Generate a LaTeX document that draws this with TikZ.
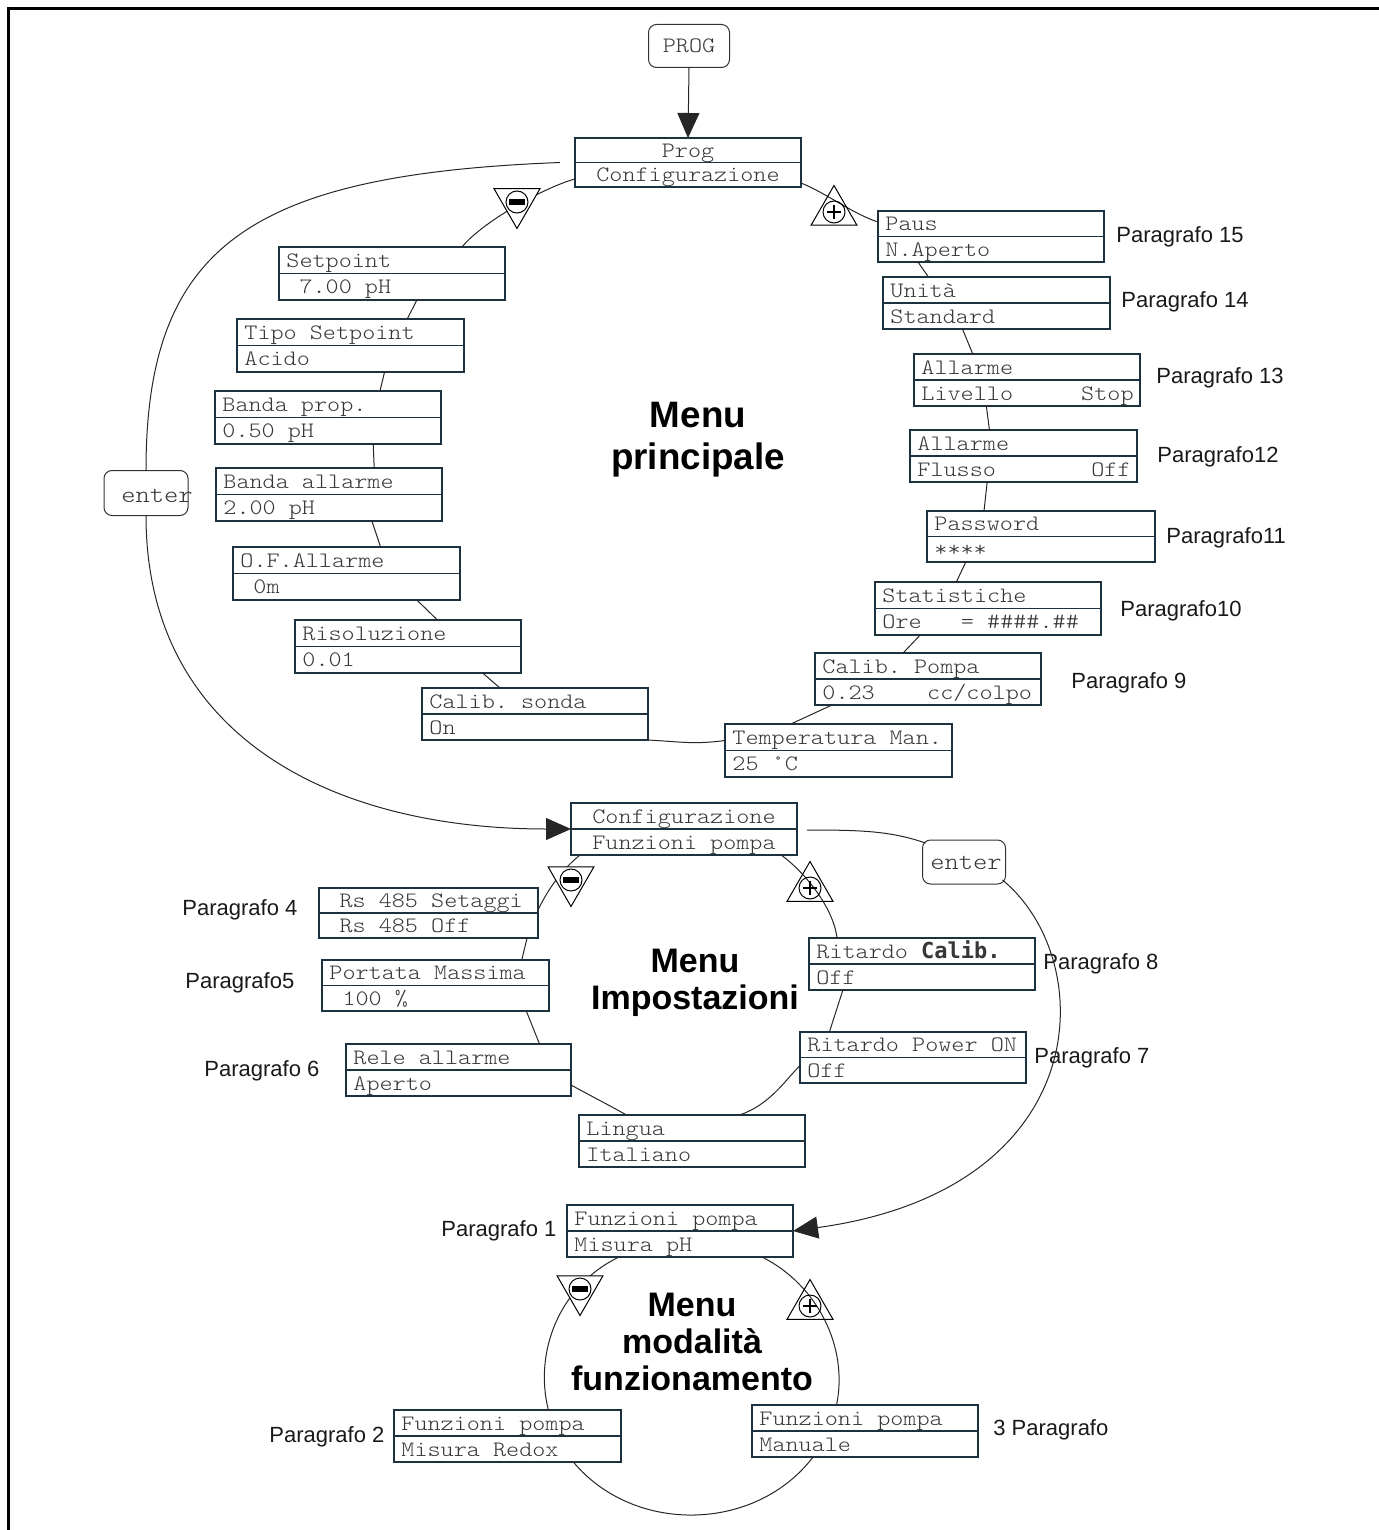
\documentclass[tikz,border=0pt]{standalone}
\usepackage{fontspec}
\newfontfamily\lab{Liberation Sans}
\newfontfamily\dvm{DejaVu Sans Mono}
\newfontfamily\monof[FakeStretch=1.134]{lmmonolt10-regular.otf}
\usetikzlibrary{arrows.meta,calc,shapes.geometric}
\definecolor{boxc}{RGB}{28,50,64}
\definecolor{txtc}{RGB}{55,55,55}
\tikzset{
  mbox/.style={draw=boxc, line width=0.9pt, fill=white, inner sep=0pt, outer sep=0pt},
  divl/.style={draw=boxc, line width=0.9pt},
  mtxt/.style={font=\fontsize{11}{13}\monof, text=txtc, inner sep=0pt, text height=7pt, text depth=2pt},
  conn/.style={line width=0.5pt, draw=black!85},
  arr/.style={conn, -{Triangle[length=12.5pt,width=11pt]}},
  tridown/.style={regular polygon, regular polygon sides=3, shape border rotate=180, draw=black, line width=0.5pt, fill=white, minimum size=26.5pt, inner sep=0pt, outer sep=0pt},
  triup/.style={regular polygon, regular polygon sides=3, draw=black, line width=0.5pt, minimum size=26.5pt, inner sep=0pt, outer sep=0pt},
  sgn/.style={circle, draw=black, line width=0.5pt, minimum size=11pt, inner sep=0pt, outer sep=0pt},
  plab/.style={font=\lab\fontsize{11}{13}\selectfont, anchor=west, inner sep=0pt, text=black!90},
  enterb/.style={draw=black!80, rounded corners=4pt, line width=0.5pt, fill=white, inner sep=0pt, outer sep=0pt},
  ttl/.style 2 args={font=\lab\bfseries\fontsize{#1}{#2}\selectfont, align=center, inner sep=0pt},
}
% menu box: name, left, top, width, height, row1, row2
\newcommand\MB[7]{%
  \node[mbox, minimum width=#4*0.5pt, minimum height=#5*0.5pt, anchor=north west] (#1) at (#2,#3) {};
  \draw[divl] (#1.west) -- (#1.east);
  \node[mtxt, anchor=west] (#1-a) at ($(#1.north west)!0.25!(#1.south west)+(7,2)$) {#6};
  \node[mtxt, anchor=west] (#1-b) at ($(#1.north west)!0.75!(#1.south west)+(7,2)$) {#7};
}
\newcommand\MBc[7]{%
  \node[mbox, minimum width=#4*0.5pt, minimum height=#5*0.5pt, anchor=north west] (#1) at (#2,#3) {};
  \draw[divl] (#1.west) -- (#1.east);
  \node[mtxt] (#1-a) at ($(#1.north)!0.25!(#1.south)+(0,2)$) {#6};
  \node[mtxt] (#1-b) at ($(#1.north)!0.75!(#1.south)+(0,2)$) {#7};
}
\newcommand\seg[4]{\draw[conn] ($(#1.south west)!#2!(#1.south east)$) -- ($(#3.north west)!#4!(#3.north east)$);}
\newcommand\minussign[2]{%
  \node[tridown] (#1) at (#2) {};
  \node[sgn, fill=white] (#1c) at (#1.center) {};
  \fill ($(#1c.center)+(-8,-2.8)$) rectangle ($(#1c.center)+(8,2.8)$);
}
\newcommand\plussign[2]{%
  \node[triup] (#1) at (#2) {};
  \node[sgn] (#1c) at (#1.center) {};
  \draw[line width=0.7pt] ($(#1c.center)+(-7,0)$) -- ($(#1c.center)+(7,0)$)
        ($(#1c.center)+(0,-7)$) -- ($(#1c.center)+(0,7)$);
}
\begin{document}
\begin{tikzpicture}[x=0.5pt,y=-0.5pt]
\useasboundingbox (0,0) rectangle (1379,1530);
% frame
\draw[line width=1.5pt] (8,1530) -- (8,9) -- (1379,9);

% ---------- top menu ----------
\node[enterb, minimum width=40.5pt, minimum height=21.5pt, font=\fontsize{11}{13}\monof, text=txtc] (prog) at (689,46) {PROG};
\MBc{cfg}{575}{138}{226}{49}{Prog}{Configurazione}
\MB{paus}{878}{211}{226}{51}{Paus}{N.Aperto}
\MB{unita}{883}{277}{227}{52}{Unità}{Standard}
\MB{all1}{914}{354}{226}{52}{Allarme}{Livello}
\node[mtxt, anchor=east] at ($(all1.north east)!0.75!(all1.south east)+(-6,2)$) {Stop};
\MB{all2}{910}{430}{227}{52}{Allarme}{Flusso}
\node[mtxt, anchor=east] at ($(all2.north east)!0.75!(all2.south east)+(-6,2)$) {Off};
\MB{pwd}{927}{511}{228}{51}{Password}{****}
\MB{stat}{875}{582}{226}{53}{Statistiche}{Ore\ \ \ =\ \#\#\#\#.\#\#}
\MB{calp}{815}{653}{226}{52}{Calib.\ Pompa}{0.23\ \ \ \ cc/colpo}
\MB{temp}{725}{724}{227}{53}{Temperatura Man.}{25\ °C}
\MB{cals}{422}{688}{226}{52}{Calib.\ sonda}{On}
\MB{riso}{295}{620}{226}{53}{Risoluzione}{0.01}
\MB{ofa}{233}{547}{227}{53}{O.F.Allarme}{\ 0m}
\MB{bala}{216}{468}{226}{53}{Banda allarme}{2.00 pH}
\MB{bapr}{215}{391}{226}{53}{Banda prop.}{0.50 pH}
\MB{tipo}{237}{319}{227}{53}{Tipo Setpoint}{Acido}
\MB{setp}{279}{247}{226}{53}{Setpoint}{\ 7.00 pH}
\node[enterb, minimum width=42pt, minimum height=22.5pt] (en1) at (146,493) {};
\node[mtxt, font=\fontsize{12}{14}\monof] (en1t) at (157,497) {enter};

\node[ttl={18.4}{21pt}] (t1) at (698,440) {Menu\\principale};

\node[plab] at (1116,237) {Paragrafo 15};
\node[plab] at (1121,302) {Paragrafo 14};
\node[plab] at (1156,378) {Paragrafo 13};
\node[plab] at (1157,457) {Paragrafo12};
\node[plab] at (1166,538) {Paragrafo11};
\node[plab] at (1120,611) {Paragrafo10};
\node[plab] at (1071,683) {Paragrafo 9};

% connectors top
\draw[arr] (prog.south) -- (cfg.north);
\draw[conn] ($(cfg.south east)+(0,-4)$) .. controls +(25,10) and +(-25,-8) .. ($(paus.north west)+(0,11)$);
\seg{paus}{0.177}{unita}{0.2}
\seg{unita}{0.35}{all1}{0.26}
\seg{all1}{0.32}{all2}{0.35}
\seg{all2}{0.34}{pwd}{0.25}
\seg{pwd}{0.17}{stat}{0.36}
\seg{stat}{0.2}{calp}{0.39}
\seg{calp}{0.075}{temp}{0.29}
\draw[conn] ($(temp.west)+(0,-10)$) .. controls +(-30,4) and +(35,2) .. (cals.south east);
\seg{riso}{0.83}{cals}{0.345}
\seg{ofa}{0.81}{riso}{0.63}
\seg{bala}{0.69}{ofa}{0.65}
\seg{bapr}{0.70}{bala}{0.70}
\seg{tipo}{0.65}{bapr}{0.73}
\seg{setp}{0.61}{tipo}{0.75}
\draw[conn] ($(setp.north west)!0.81!(setp.north east)$) .. controls +(20,-25) and +(-30,8) .. ($(cfg.south west)+(0,-8)$);
\minussign{m1}{517,202}
\plussign{p1}{834,212}

% ---------- middle menu ----------
\MBc{cfg2}{571}{803}{226}{52}{Configurazione}{Funzioni pompa}
\MB{rs}{319}{888}{219}{50}{\ Rs 485 Setaggi}{\ Rs 485 Off}
\MB{port}{322}{960}{227}{51}{Portata Massima}{\ 100 \%}
\MB{rele}{346}{1044}{225}{52}{Rele allarme}{Aperto}
\MB{ling}{579}{1115}{226}{52}{Lingua}{Italiano}
\MB{rpo}{800}{1032}{226}{51}{Ritardo Power ON}{Off}
\MB{rcal}{809}{938}{226}{52}{Ritardo {\dvm\bfseries Calib.}}{Off}
\node[enterb, minimum width=41.5pt, minimum height=22pt] (en2) at (964,862) {};
\node[mtxt, font=\fontsize{12}{14}\monof] (en2t) at (966,864) {enter};

\node[ttl={17}{18.5pt}] (t2) at (695,983) {Menu\\Impostazioni};

\node[plab] at (182,910) {Paragrafo 4};
\node[plab] at (185,983) {Paragrafo5};
\node[plab] at (204,1071) {Paragrafo 6};
\node[plab] at (1043,964) {Paragrafo 8};
\node[plab] at (1034,1058) {Paragrafo 7};

\draw[conn] ($(cfg2.south west)!0.04!(cfg2.south east)$) .. controls +(-15,12) and +(12,-25) .. ($(rs.east)+(0,-3)$);
\seg{rs}{0.95}{port}{0.88}
\seg{port}{0.90}{rele}{0.86}
\draw[conn] ($(rele.south east)+(0,-11)$) .. controls +(22,12) and +(-14,-8) .. ($(ling.north west)!0.21!(ling.north east)$);
\draw[conn] ($(ling.north west)!0.71!(ling.north east)$) .. controls +(30,-10) and +(-15,15) .. ($(rpo.west)+(0,8)$);
\seg{rcal}{0.15}{rpo}{0.13}
\draw[conn] ($(rcal.north west)!0.124!(rcal.north east)$) .. controls +(-4,-32) and +(22,16) .. ($(cfg2.south west)!0.93!(cfg2.south east)$);
\minussign{m2}{571,880}
\plussign{p2}{810,888}

% enter loops
\coordinate (l0) at ($(cfg.west)+(-15,0)$);
\draw[conn] (l0) .. controls +(-310,12) and +(0,-225) .. (en1.north);
\draw[arr] (en1.south) .. controls +(0,220) and +(-240,0) .. (cfg2.west);
\coordinate (r0) at ($(cfg2.east)+(10,1)$);
\draw[conn] (r0) .. controls +(55,0) and +(-35,-12) .. ($(en2.north west)+(3,3)$);

% ---------- bottom menu ----------
\MB{fp1}{567}{1205}{226}{52}{Funzioni pompa}{Misura pH}
\MB{fp2}{394}{1410}{227}{52}{Funzioni pompa}{Misura Redox}
\MB{fp3}{752}{1405}{226}{52}{Funzioni pompa}{Manuale}

\draw[arr] ($(en2.south east)+(-3,-4)$) .. controls +(97,80) and +(304,-42) .. (fp1.east);

\node[ttl={17}{18.5pt}] (t3) at (692,1342) {Menu\\modalità\\funzionamento};

\node[plab] at (441,1231) {Paragrafo 1};
\node[plab] at (269,1437) {Paragrafo 2};
\node[plab] at (993,1430) {3 Paragrafo};

\draw[conn] ($(fp1.south west)!0.23!(fp1.south east)$) .. controls +(-60,29) and +(-14.5,-58) .. ($(fp2.north west)!0.68!(fp2.north east)$);
\draw[conn] ($(fp2.south west)!0.79!(fp2.south east)$) .. controls +(61,73) and +(-57,75) .. ($(fp3.south west)!0.27!(fp3.south east)$);
\draw[conn] ($(fp3.north west)!0.374!(fp3.north east)$) .. controls +(12,-57) and +(56,28) .. ($(fp1.south west)!0.863!(fp1.south east)$);
\minussign{m3}{580,1289}
\plussign{p3}{810,1306}
\end{tikzpicture}
\end{document}
